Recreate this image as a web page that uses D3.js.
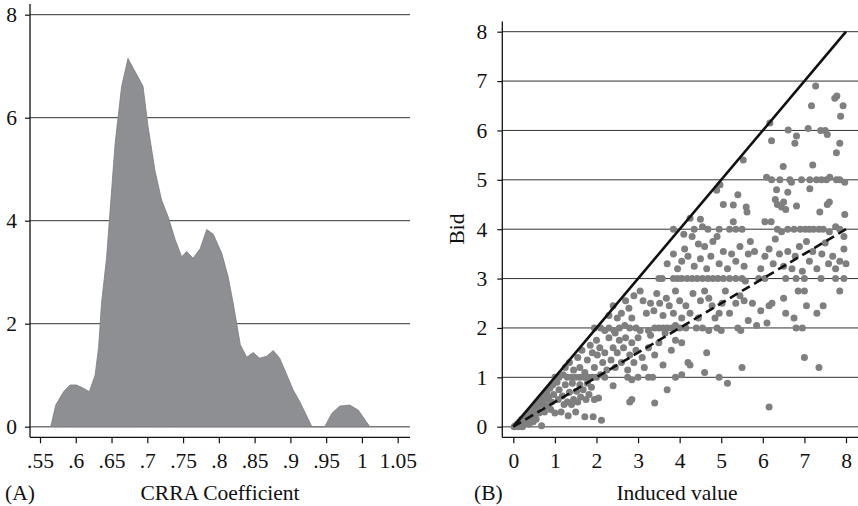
<!DOCTYPE html>
<html>
<head>
<meta charset="utf-8">
<script src="https://cdn.jsdelivr.net/npm/d3@7"></script>
<style>
  html, body { margin: 0; padding: 0; background: #fff; }
  svg { display: block; }
  text { font-family: "Liberation Serif", "Times New Roman", serif; fill: #111; }
</style>
</head>
<body>
<svg id="chart" width="858" height="506"></svg>
<script>
// ---------- Panel A data: CRRA coefficient density ----------
const crraX = [0.565,0.572,0.583,0.592,0.601,0.610,0.619,0.627,0.632,0.636,0.643,0.655,0.664,0.673,0.694,0.701,0.711,0.720,0.729,0.739,0.748,0.755,0.764,0.774,0.783,0.792,0.804,0.813,0.820,0.830,0.839,0.848,0.857,0.867,0.876,0.885,0.894,0.904,0.913,0.930,0.948,0.958,0.969,0.983,0.995,1.011];
const crraDensity = [0,0.42,0.68,0.81,0.81,0.75,0.68,1.0,1.55,2.4,3.27,5.5,6.6,7.15,6.61,5.83,4.95,4.40,4.08,3.63,3.30,3.40,3.27,3.46,3.83,3.74,3.37,2.91,2.40,1.59,1.35,1.44,1.33,1.37,1.48,1.33,1.04,0.71,0.49,0,0,0.26,0.40,0.42,0.32,0];
const crraTickValues = [0.55,0.6,0.65,0.7,0.75,0.8,0.85,0.9,0.95,1,1.05];
const crraTickLabels = [".55",".6",".65",".7",".75",".8",".85",".9",".95","1","1.05"];
const densityTicks = [0,2,4,6,8];

// ---------- Panel B data: bids vs induced value ----------
const bidTicks = [0,1,2,3,4,5,6,7,8];
const valueTicks = [0,1,2,3,4,5,6,7,8];
const fullBidLine = [[0,0],[8,8]];     // bid = value
const halfBidLine = [[0,0],[8,4]];     // bid = value / 2
const bidPoints = [
 [0.02,0.0],[0.06,0.03],[0.1,0.06],[0.12,0.0],[0.15,0.1],[0.18,0.04],[0.2,0.15],[0.22,0.0],[0.25,0.18],[0.28,0.08],[0.3,0.22],[0.33,0.12],[0.35,0.28],[0.38,0.05],[0.4,0.3],[0.42,0.18],[0.45,0.35],[0.48,0.1],[0.5,0.25],[0.52,0.42],[0.55,0.15],[0.58,0.38],[0.6,0.5],[0.62,0.28],[0.65,0.55],[0.68,0.02],[0.7,0.45],[0.72,0.62],[0.75,0.3],[0.78,0.55],[0.8,0.7],[0.82,0.42],[0.85,0.6],[0.88,0.78],[0.9,0.35],[0.92,0.5],[0.95,0.85],[0.97,0.65],[1.0,1.0],[1.0,0.28],
 [1.05,0.9],[1.08,0.55],[1.1,0.75],[1.15,0.3],[1.18,0.62],[1.22,0.45],[1.25,0.85],[1.3,0.5],[1.32,0.22],[1.35,0.7],[1.4,0.45],[1.42,0.88],[1.45,0.55],[1.5,0.3],[1.52,0.72],[1.55,0.5],[1.6,0.85],[1.62,0.6],[1.68,0.75],[1.72,0.2],[1.75,0.55],[1.78,0.88],[1.82,0.65],[1.88,0.8],[1.92,0.2],[1.95,0.55],[2.05,0.58],[2.12,0.13],[2.4,0.83],[2.8,0.5],[2.85,0.55],[3.4,0.48],[3.7,0.75],
 [1.1,1.0],[1.2,1.05],[1.3,1.0],[1.4,1.0],[1.5,1.0],[1.6,1.0],[1.7,1.0],[1.8,1.0],[1.9,1.0],[2.0,1.0],[2.1,1.05],[2.2,1.0],[2.75,1.0],[2.85,0.95],[3.0,1.0],[3.25,1.0],[3.35,1.0],[3.9,1.0],[4.05,1.05],[4.6,1.1],[4.95,1.0],[4.25,1.25],[5.15,0.88],[5.5,1.2],[6.15,0.4],[7.0,1.4],[7.35,1.2],[4.65,1.5],
 [1.25,1.2],[1.35,1.3],[1.45,1.15],[1.55,1.4],[1.6,1.2],[1.65,1.55],[1.72,1.1],[1.78,1.35],[1.85,1.65],[1.9,1.5],[1.95,1.2],[2.0,1.75],[2.02,1.45],[2.08,1.6],[2.15,1.3],[2.2,1.5],[2.25,1.15],[2.3,1.8],[2.35,1.35],[2.4,1.6],[2.45,1.2],[2.5,1.5],[2.55,1.75],[2.6,1.3],[2.65,1.6],[2.7,1.8],[2.75,1.15],[2.8,1.45],[2.85,1.7],[2.9,1.3],[2.95,1.55],[3.0,1.8],[3.1,1.4],[3.15,1.2],[3.25,1.6],[3.3,1.85],[3.4,1.45],[3.5,1.7],[3.6,1.25],[3.65,1.9],[3.8,1.55],[3.9,1.75],[4.2,1.3],[4.05,1.7],[2.2,1.95],[2.45,1.9],
 [1.95,2.0],[2.1,2.0],[2.3,2.0],[2.42,1.95],[2.55,2.0],[2.68,2.05],[2.8,2.0],[2.95,2.0],[3.05,1.95],[3.25,1.95],[3.4,2.0],[3.5,2.0],[3.6,2.0],[3.7,2.0],[3.8,2.0],[3.9,2.05],[4.0,2.0],[4.15,2.0],[4.4,2.0],[4.55,2.0],[4.7,1.95],[4.9,2.0],[5.0,1.95],[5.4,2.0],[5.47,1.95],[5.85,2.05],[6.1,2.1],[6.8,2.0],[6.95,2.0],
 [2.3,2.25],[2.4,2.45],[2.5,2.2],[2.6,2.3],[2.7,2.55],[2.78,2.4],[2.85,2.2],[2.9,2.65],[3.05,2.75],[3.12,2.55],[3.2,2.3],[3.3,2.5],[3.38,2.35],[3.45,2.7],[3.52,2.5],[3.6,2.25],[3.68,2.6],[3.75,2.45],[3.85,2.3],[3.9,2.75],[4.0,2.55],[4.05,2.2],[4.15,2.45],[4.25,2.3],[4.32,2.7],[4.45,2.2],[4.5,2.55],[4.6,2.75],[4.7,2.6],[4.78,2.45],[4.85,2.2],[4.95,2.3],[5.02,2.5],[5.1,2.75],[5.2,2.3],[5.35,2.5],[5.45,2.65],[5.55,2.55],[5.65,2.15],[5.75,2.5],[5.95,2.35],[6.15,2.45],[6.22,2.5],[6.5,2.6],[6.55,2.3],[6.75,2.2],[6.85,2.75],[7.0,2.75],[7.05,2.45],[7.3,2.3],[7.45,2.45],[7.85,2.75],
 [3.5,3.0],[3.58,3.0],[3.85,3.0],[3.95,3.0],[4.05,3.0],[4.18,3.0],[4.3,3.0],[4.42,3.0],[4.55,3.0],[4.68,3.0],[4.8,3.0],[4.92,3.0],[5.05,3.0],[5.2,3.0],[5.35,3.0],[5.5,3.0],[5.58,2.95],[5.9,3.0],[6.05,3.0],[6.55,3.0],[6.8,3.0],[7.0,3.0],[7.4,3.0],[7.75,3.0],[7.95,3.0],
 [3.7,3.3],[3.85,3.5],[3.95,3.2],[4.05,3.35],[4.12,3.6],[4.2,3.45],[4.3,3.85],[4.35,3.25],[4.45,3.7],[4.5,3.4],[4.6,3.65],[4.65,3.2],[4.75,3.45],[4.8,3.75],[4.9,3.85],[4.95,3.3],[5.05,3.55],[5.15,3.2],[5.25,3.5],[5.35,3.35],[5.45,3.65],[5.55,3.25],[5.65,3.5],[5.7,3.75],[5.8,3.55],[5.95,3.2],[6.05,3.45],[6.15,3.6],[6.25,3.3],[6.3,3.8],[6.4,3.5],[6.5,3.25],[6.6,3.55],[6.7,3.2],[6.78,3.45],[6.88,3.65],[6.95,3.15],[7.05,3.75],[7.12,3.35],[7.2,3.55],[7.3,3.2],[7.42,3.5],[7.5,3.72],[7.58,3.3],[7.68,3.45],[7.75,3.2],[7.85,3.35],[7.95,3.6],[8.0,3.3],
 [3.85,4.0],[4.1,3.9],[4.35,4.0],[4.55,4.05],[4.68,4.0],[4.95,4.0],[5.2,4.0],[5.35,4.0],[5.5,4.0],[6.05,4.15],[6.2,4.15],[6.35,4.0],[6.45,3.95],[6.6,4.0],[6.75,4.0],[6.9,4.0],[7.02,4.0],[7.12,4.0],[7.22,4.0],[7.35,4.0],[7.45,4.0],[7.6,3.95],[7.75,4.05],[7.85,4.0],[7.95,3.85],
 [4.25,4.22],[4.5,4.2],[5.05,4.5],[5.29,4.49],[5.29,4.15],[5.6,4.45],[5.62,4.35],[6.3,4.6],[6.35,4.5],[6.5,4.55],[6.55,4.4],[6.45,4.45],[6.81,4.47],[7.37,4.35],[7.6,4.55],[7.55,4.5],[7.97,4.3],[6.6,4.75],[6.33,4.8],[7.13,4.82],[4.89,4.79],[4.97,4.9],[5.4,4.7],
 [6.09,5.05],[6.21,5.0],[6.41,5.0],[6.65,5.0],[6.69,4.95],[6.93,5.0],[7.13,5.0],[7.29,5.0],[7.41,5.0],[7.53,5.0],[7.61,5.05],[7.77,5.0],[7.85,5.0],[7.97,4.95],
 [5.53,5.4],[6.49,5.27],[7.2,5.3],[6.21,5.79],[6.77,5.74],[7.85,5.74],[7.77,5.55],[6.81,5.89],[6.17,6.15],[6.61,6.01],[7.09,6.04],[7.39,6.0],[7.5,6.0],[7.55,5.92],[7.17,6.5],[7.93,6.5],[7.87,6.29],[7.27,6.9],[7.73,6.65],[7.78,6.7]
];

const svg = d3.select("#chart");
const FONT = 21.5;

// ================= Panel A =================
const xA = d3.scaleLinear().domain([0.55, 1.05]).range([40, 397.7]);
const yA = d3.scaleLinear().domain([0, 8]).range([426.7, 14.7]);
const gA = svg.append("g");

gA.selectAll("line.grid").data(densityTicks).join("line")
  .attr("x1", 30).attr("x2", 410)
  .attr("y1", d => yA(d)).attr("y2", d => yA(d))
  .attr("stroke", d => d === 0 ? "#7a7a7a" : "#333")
  .attr("stroke-width", d => d === 0 ? 1.6 : 1);

const densPts = crraX.map((x, i) => [x, crraDensity[i]]);
gA.append("path").datum(densPts)
  .attr("d", d3.area().x(d => xA(d[0])).y0(yA(0)).y1(d => yA(d[1])))
  .attr("fill", "#8e8f93").attr("stroke", "#7b7c80").attr("stroke-width", 0.8);

const yAxisA = d3.axisLeft(yA).tickValues(densityTicks).tickSize(5).tickPadding(8).tickFormat(d3.format("d"));
const yAg = gA.append("g").attr("transform", "translate(30,0)").call(yAxisA);
yAg.select(".domain").remove();
const xAxisA = d3.axisBottom(xA).tickValues(crraTickValues).tickSize(6).tickPadding(9)
  .tickFormat((d, i) => crraTickLabels[i]);
const xAg = gA.append("g").attr("transform", "translate(0,437.3)").call(xAxisA);
xAg.select(".domain").remove();
gA.append("line").attr("x1", 30).attr("x2", 30).attr("y1", 4).attr("y2", 437.3).attr("stroke", "#111").attr("stroke-width", 1.3);
gA.append("line").attr("x1", 30).attr("x2", 410).attr("y1", 437.3).attr("y2", 437.3).attr("stroke", "#111").attr("stroke-width", 1.3);

gA.append("text").attr("x", 5).attr("y", 499.5).attr("font-size", FONT).text("(A)");
gA.append("text").attr("x", 220).attr("y", 499.5).attr("font-size", FONT).attr("text-anchor", "middle").text("CRRA Coefficient");

// ================= Panel B =================
const xB = d3.scaleLinear().domain([0, 8]).range([513.3, 846]);
const yB = d3.scaleLinear().domain([0, 8]).range([426.7, 31.7]);
const gB = svg.append("g");

gB.selectAll("line.grid").data(bidTicks).join("line")
  .attr("x1", 502.3).attr("x2", 858)
  .attr("y1", d => yB(d)).attr("y2", d => yB(d))
  .attr("stroke", d => d === 0 ? "#7a7a7a" : "#333")
  .attr("stroke-width", d => d === 0 ? 1.6 : 1);

gB.selectAll("circle").data(bidPoints).join("circle")
  .attr("cx", d => xB(d[0])).attr("cy", d => yB(d[1])).attr("r", 3.5)
  .attr("fill", "#7f7f7f");

const line = d3.line().x(d => xB(d[0])).y(d => yB(d[1]));
gB.append("path").datum(fullBidLine).attr("d", line)
  .attr("stroke", "#111").attr("stroke-width", 2.6).attr("fill", "none");
gB.append("path").datum(halfBidLine).attr("d", line)
  .attr("stroke", "#111").attr("stroke-width", 2.6).attr("fill", "none")
  .attr("stroke-dasharray", "9,5");

const yAxisB = d3.axisLeft(yB).tickValues(bidTicks).tickSize(5).tickPadding(10).tickFormat(d3.format("d"));
const yBg = gB.append("g").attr("transform", "translate(502.3,0)").call(yAxisB);
yBg.select(".domain").remove();
const xAxisB = d3.axisBottom(xB).tickValues(valueTicks).tickSize(6).tickPadding(9).tickFormat(d3.format("d"));
const xBg = gB.append("g").attr("transform", "translate(0,437.3)").call(xAxisB);
xBg.select(".domain").remove();
gB.append("line").attr("x1", 502.3).attr("x2", 502.3).attr("y1", 21.5).attr("y2", 437.3).attr("stroke", "#111").attr("stroke-width", 1.3);
gB.append("line").attr("x1", 502.3).attr("x2", 858).attr("y1", 437.3).attr("y2", 437.3).attr("stroke", "#111").attr("stroke-width", 1.3);

gB.append("text").attr("transform", "translate(464,229) rotate(-90)").attr("font-size", FONT)
  .attr("text-anchor", "middle").text("Bid");
gB.append("text").attr("x", 474).attr("y", 499.5).attr("font-size", FONT).text("(B)");
gB.append("text").attr("x", 677).attr("y", 499.5).attr("font-size", FONT).attr("text-anchor", "middle").text("Induced value");

svg.selectAll(".tick text").attr("font-size", FONT).attr("font-family", "Liberation Serif, serif").attr("fill", "#111");
svg.selectAll(".tick line").attr("stroke", "#111").attr("stroke-width", 1.2);
</script>
</body>
</html>
